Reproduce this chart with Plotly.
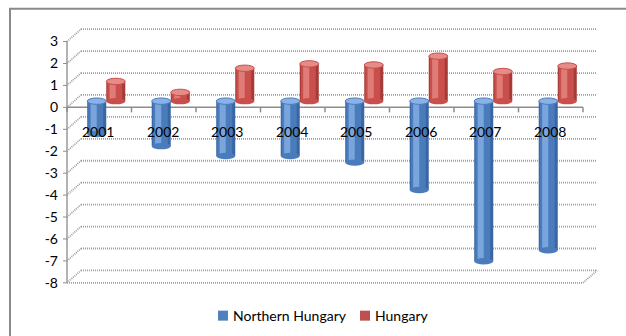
import plotly.graph_objects as go
import numpy as np

years = ['2001', '2002', '2003', '2004', '2005', '2006', '2007', '2008']
northern = [-1.5, -2.05, -2.5, -2.5, -2.8, -4.05, -7.3, -6.8]
hungary = [0.9, 0.4, 1.5, 1.7, 1.65, 2.05, 1.35, 1.6]
yticks = list(range(-8, 4))
series_names = ['Northern Hungary', 'Hungary']

W, H = 626, 336
YMIN, YMAX = -8, 3
PAD = 0.7
Y_TOP_PX, Y_BOT_PX = 35.7, 277.0          # bar-plane pixel of YMAX / YMIN
PXU = (Y_BOT_PX - Y_TOP_PX) / (YMAX - YMIN)
ML, MR = 74, 36
MT = Y_TOP_PX - PAD * PXU
MB = H - (Y_BOT_PX + PAD * PXU)
PW = W - ML - MR
PH = H - MT - MB
D = 6.2 / PXU                 # half depth in units
DX = 7                        # half depth in px (x)

def px(xp):
    return (xp - ML) / PW

def py(yp):
    return (H - MB - yp) / PH

x = np.arange(len(years))
BW = 0.295

blue = dict(dark='#3A67A3', mid='#4A7CBC', light='#7AA5DC', cap='#8AB2E6', key='#4F81BD')
red = dict(dark='#A53B38', mid='#C84F4B', light='#E07C78', cap='#E58C88', key='#C0504D')

fig = go.Figure()

def cylinder(vals, off, pal, name):
    fig.add_trace(go.Bar(x=x, y=vals, base=0, width=BW, offset=off,
                         marker=dict(color=pal['dark'], line=dict(width=0)),
                         name=name, showlegend=False, legendgroup=name))
    fig.add_trace(go.Bar(x=x, y=vals, width=BW * 0.78, offset=off + BW * 0.06,
                         marker=dict(color=pal['mid'], line=dict(width=0)),
                         showlegend=False, legendgroup=name, hoverinfo='skip'))
    fig.add_trace(go.Bar(x=x, y=vals, width=BW * 0.32, offset=off + BW * 0.18,
                         marker=dict(color=pal['light'], line=dict(width=0)),
                         showlegend=False, legendgroup=name, hoverinfo='skip'))

cylinder(northern, -BW, blue, series_names[0])
cylinder(hungary, 0.0, red, series_names[1])

shapes = []
CAP = 3.2 / PXU
for i, v in enumerate(northern):
    x0, x1 = x[i] - BW, x[i]
    shapes.append(dict(type='circle', xref='x', yref='y', x0=x0, x1=x1, y0=v - CAP, y1=v + CAP,
                       fillcolor=blue['mid'], line=dict(width=0), layer='above'))
    shapes.append(dict(type='circle', xref='x', yref='y', x0=x0, x1=x1, y0=-CAP, y1=CAP,
                       fillcolor=blue['cap'], line=dict(color=blue['mid'], width=1), layer='above'))
for i, v in enumerate(hungary):
    x0, x1 = x[i], x[i] + BW
    shapes.append(dict(type='circle', xref='x', yref='y', x0=x0, x1=x1, y0=-CAP, y1=CAP,
                       fillcolor=red['mid'], line=dict(width=0), layer='above'))
    shapes.append(dict(type='circle', xref='x', yref='y', x0=x0, x1=x1, y0=v - CAP, y1=v + CAP,
                       fillcolor=red['cap'], line=dict(color=red['mid'], width=1), layer='above'))

GRID = dict(color='#A0A0A0', width=1.8, dash='1px,1px')
FL, FR = ML - DX, ML + PW - DX     # front plane
BL, BR = ML + DX, ML + PW + DX     # back plane
for v in yticks:
    shapes.append(dict(type='line', xref='paper', yref='y', x0=px(BL), x1=px(BR), y0=v + D, y1=v + D,
                       line=GRID, layer='below'))
    shapes.append(dict(type='line', xref='paper', yref='y', x0=px(FL), x1=px(BL), y0=v - D, y1=v + D,
                       line=GRID, layer='below'))
    shapes.append(dict(type='line', xref='paper', yref='y', x0=px(FL - 4), x1=px(FL), y0=v - D, y1=v - D,
                       line=dict(color='#8C8C8C', width=1), layer='below'))
shapes.append(dict(type='line', xref='paper', yref='y', x0=px(FL), x1=px(FL), y0=YMIN - D, y1=YMAX - D,
                   line=dict(color='#9A9A9A', width=1.5), layer='below'))
shapes.append(dict(type='line', xref='paper', yref='y', x0=px(FL), x1=px(FR), y0=YMIN - D, y1=YMIN - D,
                   line=GRID, layer='below'))
shapes.append(dict(type='line', xref='paper', yref='y', x0=px(FR), x1=px(BR), y0=YMIN - D, y1=YMIN + D,
                   line=GRID, layer='below'))
shapes.append(dict(type='line', xref='paper', yref='y', x0=px(FL), x1=px(FR), y0=-D, y1=-D,
                   line=dict(color='#8C8C8C', width=1.5), layer='below'))
for k in range(len(years) + 1):
    xk = px(FL + k * PW / len(years))
    shapes.append(dict(type='line', xref='paper', yref='y', x0=xk, x1=xk, y0=-D, y1=-D - 5 / PXU,
                       line=dict(color='#8C8C8C', width=1.5), layer='below'))
# chart frame
shapes.append(dict(type='rect', xref='paper', yref='paper', x0=px(10), x1=px(W + 20),
                   y0=py(H + 20), y1=py(9),
                   line=dict(color='#8A8A8A', width=2), fillcolor='rgba(0,0,0,0)', layer='below'))

annotations = []
for i, yr in enumerate(years):
    annotations.append(dict(x=x[i], y=0, xref='x', yref='y', text=yr, showarrow=False,
                            xshift=-DX - 1, yshift=-30, font=dict(size=14, color='#000000'),
                            xanchor='center', yanchor='middle'))

# legend (drawn as keys + text)
legend_items = [(series_names[0], blue['key'], 218), (series_names[1], red['key'], 360)]
for name, col, lx in legend_items:
    shapes.append(dict(type='rect', xref='paper', yref='paper', x0=px(lx), x1=px(lx + 10),
                       y0=py(321), y1=py(311), fillcolor=col, line=dict(width=0)))
    annotations.append(dict(x=px(lx + 13), y=py(316), xref='paper', yref='paper', text=name,
                            showarrow=False, xanchor='left', yanchor='middle',
                            font=dict(size=14, color='#000000')))

fig.update_layout(
    width=W, height=H,
    margin=dict(l=ML, r=MR, t=MT, b=MB, autoexpand=False),
    barmode='overlay',
    paper_bgcolor='white', plot_bgcolor='rgba(0,0,0,0)',
    font=dict(family='Lato, Open Sans, sans-serif', size=14, color='#000000'),
    xaxis=dict(range=[-0.5, len(years) - 0.5], showticklabels=False, showgrid=False,
               zeroline=False, showline=False, ticks=''),
    yaxis=dict(range=[YMIN - PAD, YMAX + PAD], tickvals=yticks, ticktext=[str(v) for v in yticks],
               showgrid=False, zeroline=False, showline=False, ticks='',
               ticklabelshift=6, ticklabelstandoff=15, tickfont=dict(size=14)),
    shapes=shapes,
    annotations=annotations,
    showlegend=False,
)

fig.write_html("out.html")
